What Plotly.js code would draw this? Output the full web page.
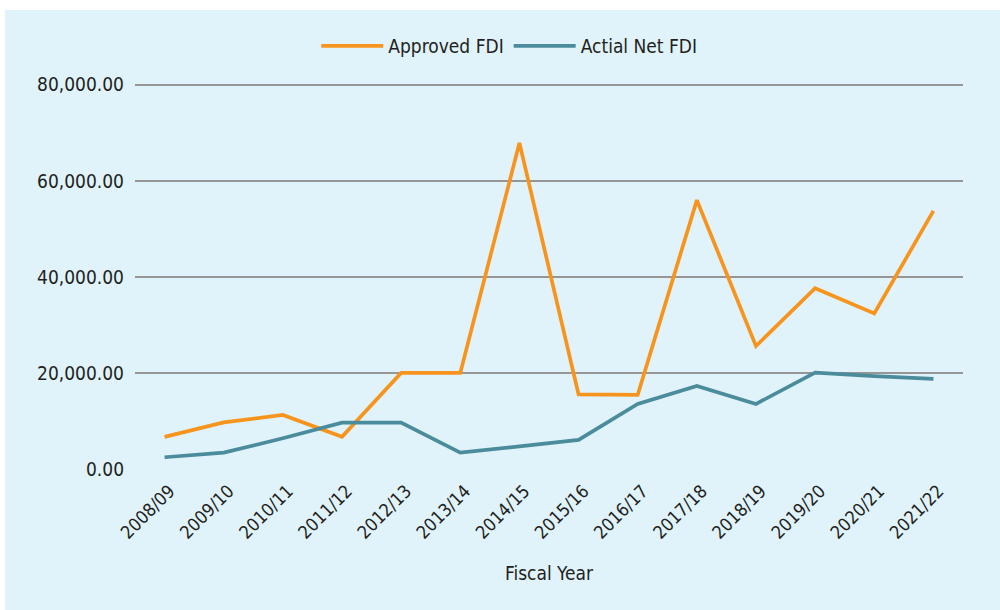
<!DOCTYPE html>
<html>
<head>
<meta charset="utf-8">
<script src="https://cdn.plot.ly/plotly-3.0.1.min.js"></script>
<style>
  html, body { margin: 0; padding: 0; background: #ffffff; }
  #chart { position: absolute; left: 5px; top: 10px; width: 995px; height: 600px; }
</style>
</head>
<body>
<div id="chart"></div>
<script>
const fiscalYears = ["2008/09","2009/10","2010/11","2011/12","2012/13","2013/14","2014/15",
  "2015/16","2016/17","2017/18","2018/19","2019/20","2020/21","2021/22"];
const approvedFDI = [6700, 9700, 11250, 6700, 20000, 20000, 67900, 15550, 15450, 56000, 25600, 37650, 32400, 53750];
const actualNetFDI = [2450, 3400, 6400, 9650, 9650, 3400, 4700, 6050, 13550, 17300, 13550, 20050, 19350, 18750];
const yTicks = [0, 20000, 40000, 60000, 80000];
const yTickLabels = ["0.00", "20,000.00", "40,000.00", "60,000.00", "80,000.00"];

const fontFam = "'DejaVu Sans Condensed', 'Liberation Sans Narrow', 'Roboto', sans-serif";
const textColor = "#231f20";

const traces = [
  { type: "scatter", mode: "lines", name: "Approved FDI", x: fiscalYears, y: approvedFDI,
    line: { color: "#f7941d", width: 3.7 } },
  { type: "scatter", mode: "lines", name: "Actial Net FDI", x: fiscalYears, y: actualNetFDI,
    line: { color: "#4a8c9c", width: 3.7 } }
];

const layout = {
  width: 995, height: 600,
  paper_bgcolor: "#e0f3fa", plot_bgcolor: "#e0f3fa",
  margin: { l: 130, r: 37, t: 71, b: 141, autoexpand: false },
  font: { family: fontFam, color: textColor, size: 16 },
  showlegend: true,
  legend: { orientation: "h", x: 0.452, xanchor: "center", y: 1.09, yanchor: "middle",
    itemwidth: 62,
    font: { size: 19, family: fontFam, color: textColor }, bgcolor: "rgba(0,0,0,0)" },
  xaxis: {
    type: "category", range: [-0.5, 13.5], tickangle: -45, showgrid: false, zeroline: false, showline: false,
    ticks: "", tickfont: { size: 18, family: fontFam, color: textColor },
    ticklabelstandoff: 7, ticklabelshift: 5,
    title: { text: "Fiscal Year", font: { size: 19, family: fontFam, color: textColor }, standoff: 24 },
    automargin: false
  },
  yaxis: {
    range: [0, 80800], tickvals: yTicks, ticktext: yTickLabels,
    showgrid: true, gridcolor: "#969696", gridwidth: 1.8, zeroline: false, showline: false,
    ticks: "", tickfont: { size: 19, family: fontFam, color: textColor },
    ticklabelstandoff: 10, automargin: false
  }
};

Plotly.newPlot("chart", traces, layout, { displayModeBar: false, staticPlot: true });
</script>
</body>
</html>
